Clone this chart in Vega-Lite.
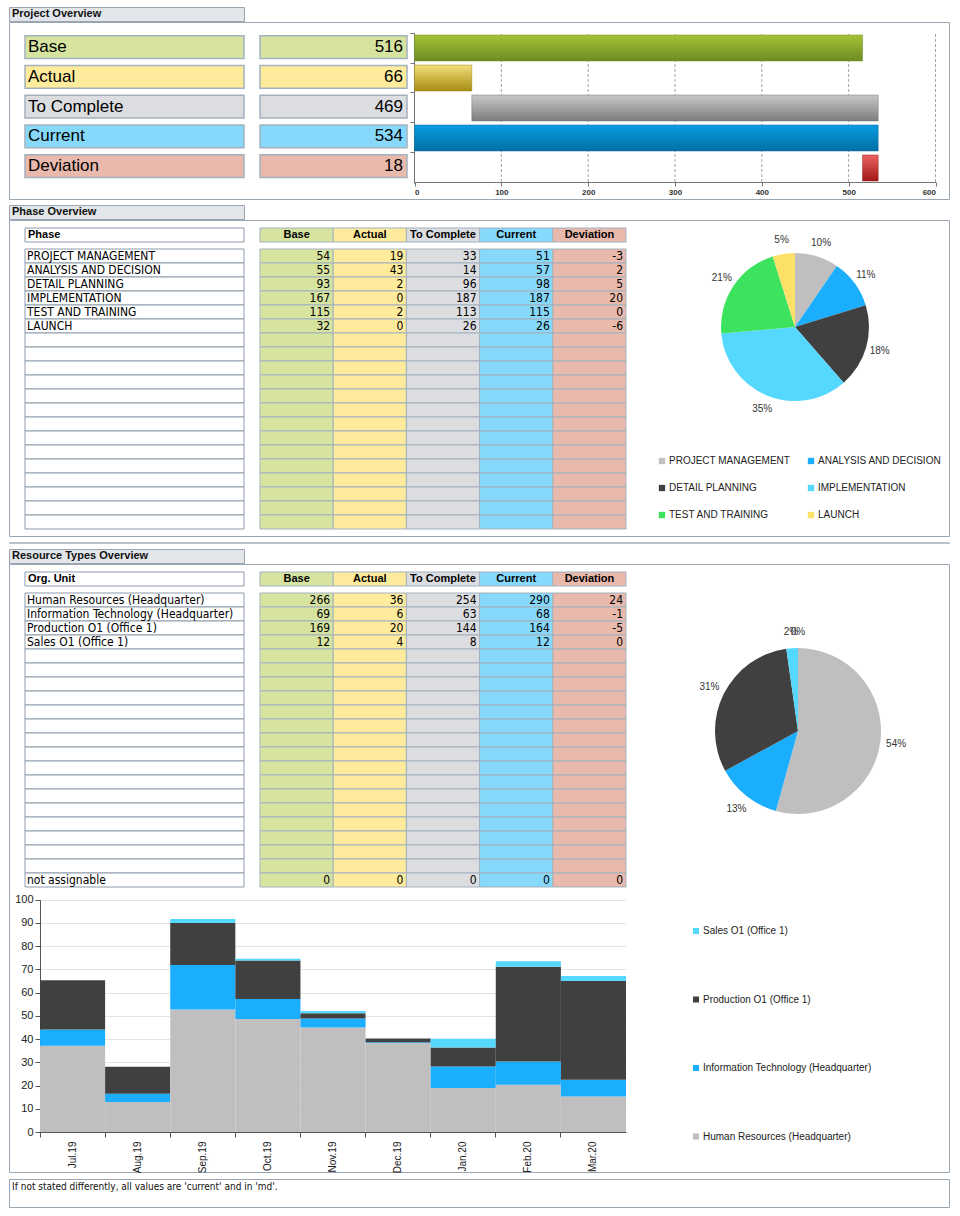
{
"$schema": "https://vega.github.io/schema/vega-lite/v6.json",
"padding": {"left": 8, "top": 6, "right": 0, "bottom": 0},
"autosize": {"type": "pad"},
"config": {"font": "Liberation Sans", "view": {"stroke": null}, "axis": {"labelFont": "Liberation Sans"}, "legend": {"labelFont": "Liberation Sans"}},
"datasets": {
"project": [
{"metric": "Base", "value": 516, "start": 0, "end": 516},
{"metric": "Actual", "value": 66, "start": 0, "end": 66},
{"metric": "To Complete", "value": 469, "start": 66, "end": 534},
{"metric": "Current", "value": 534, "start": 0, "end": 534},
{"metric": "Deviation", "value": 18, "start": 516, "end": 534}
],
"colHeads": [
{"col": "Base", "label": "Base"},
{"col": "Actual", "label": "Actual"},
{"col": "ToComplete", "label": "To Complete"},
{"col": "Current", "label": "Current"},
{"col": "Deviation", "label": "Deviation"}
],
"phases": [
{"row": 1, "name": "PROJECT MANAGEMENT", "Base": 54, "Actual": 19, "ToComplete": 33, "Current": 51, "Deviation": -3, "share": "10%"},
{"row": 2, "name": "ANALYSIS AND DECISION", "Base": 55, "Actual": 43, "ToComplete": 14, "Current": 57, "Deviation": 2, "share": "11%"},
{"row": 3, "name": "DETAIL PLANNING", "Base": 93, "Actual": 2, "ToComplete": 96, "Current": 98, "Deviation": 5, "share": "18%"},
{"row": 4, "name": "IMPLEMENTATION", "Base": 167, "Actual": 0, "ToComplete": 187, "Current": 187, "Deviation": 20, "share": "35%"},
{"row": 5, "name": "TEST AND TRAINING", "Base": 115, "Actual": 2, "ToComplete": 113, "Current": 115, "Deviation": 0, "share": "21%"},
{"row": 6, "name": "LAUNCH", "Base": 32, "Actual": 0, "ToComplete": 26, "Current": 26, "Deviation": -6, "share": "5%"},
{"row": 7}, {"row": 8}, {"row": 9}, {"row": 10}, {"row": 11}, {"row": 12}, {"row": 13},
{"row": 14}, {"row": 15}, {"row": 16}, {"row": 17}, {"row": 18}, {"row": 19}, {"row": 20}
],
"units": [
{"row": 1, "name": "Human Resources (Headquarter)", "Base": 266, "Actual": 36, "ToComplete": 254, "Current": 290, "Deviation": 24, "share": "54%"},
{"row": 2, "name": "Information Technology (Headquarter)", "Base": 69, "Actual": 6, "ToComplete": 63, "Current": 68, "Deviation": -1, "share": "13%"},
{"row": 3, "name": "Production O1 (Office 1)", "Base": 169, "Actual": 20, "ToComplete": 144, "Current": 164, "Deviation": -5, "share": "31%"},
{"row": 4, "name": "Sales O1 (Office 1)", "Base": 12, "Actual": 4, "ToComplete": 8, "Current": 12, "Deviation": 0, "share": "2%"},
{"row": 5}, {"row": 6}, {"row": 7}, {"row": 8}, {"row": 9}, {"row": 10}, {"row": 11}, {"row": 12},
{"row": 13}, {"row": 14}, {"row": 15}, {"row": 16}, {"row": 17}, {"row": 18}, {"row": 19}, {"row": 20},
{"row": 21, "name": "not assignable", "Base": 0, "Actual": 0, "ToComplete": 0, "Current": 0, "Deviation": 0, "share": "0%"}
],
"monthly": [
{"month": "Jul.19", "unit": "Human Resources (Headquarter)", "value": 37.1},
{"month": "Jul.19", "unit": "Information Technology (Headquarter)", "value": 7.0},
{"month": "Jul.19", "unit": "Production O1 (Office 1)", "value": 21.2},
{"month": "Jul.19", "unit": "Sales O1 (Office 1)", "value": 0},
{"month": "Aug.19", "unit": "Human Resources (Headquarter)", "value": 12.9},
{"month": "Aug.19", "unit": "Information Technology (Headquarter)", "value": 3.6},
{"month": "Aug.19", "unit": "Production O1 (Office 1)", "value": 11.6},
{"month": "Aug.19", "unit": "Sales O1 (Office 1)", "value": 0},
{"month": "Sep.19", "unit": "Human Resources (Headquarter)", "value": 52.7},
{"month": "Sep.19", "unit": "Information Technology (Headquarter)", "value": 19.2},
{"month": "Sep.19", "unit": "Production O1 (Office 1)", "value": 18.1},
{"month": "Sep.19", "unit": "Sales O1 (Office 1)", "value": 1.7},
{"month": "Oct.19", "unit": "Human Resources (Headquarter)", "value": 48.6},
{"month": "Oct.19", "unit": "Information Technology (Headquarter)", "value": 8.7},
{"month": "Oct.19", "unit": "Production O1 (Office 1)", "value": 16.5},
{"month": "Oct.19", "unit": "Sales O1 (Office 1)", "value": 0.8},
{"month": "Nov.19", "unit": "Human Resources (Headquarter)", "value": 45.0},
{"month": "Nov.19", "unit": "Information Technology (Headquarter)", "value": 3.9},
{"month": "Nov.19", "unit": "Production O1 (Office 1)", "value": 2.2},
{"month": "Nov.19", "unit": "Sales O1 (Office 1)", "value": 1.0},
{"month": "Dec.19", "unit": "Human Resources (Headquarter)", "value": 38.3},
{"month": "Dec.19", "unit": "Information Technology (Headquarter)", "value": 0.3},
{"month": "Dec.19", "unit": "Production O1 (Office 1)", "value": 1.7},
{"month": "Dec.19", "unit": "Sales O1 (Office 1)", "value": 0},
{"month": "Jan.20", "unit": "Human Resources (Headquarter)", "value": 18.9},
{"month": "Jan.20", "unit": "Information Technology (Headquarter)", "value": 9.3},
{"month": "Jan.20", "unit": "Production O1 (Office 1)", "value": 8.2},
{"month": "Jan.20", "unit": "Sales O1 (Office 1)", "value": 3.7},
{"month": "Feb.20", "unit": "Human Resources (Headquarter)", "value": 20.3},
{"month": "Feb.20", "unit": "Information Technology (Headquarter)", "value": 10.1},
{"month": "Feb.20", "unit": "Production O1 (Office 1)", "value": 40.7},
{"month": "Feb.20", "unit": "Sales O1 (Office 1)", "value": 2.4},
{"month": "Mar.20", "unit": "Human Resources (Headquarter)", "value": 15.3},
{"month": "Mar.20", "unit": "Information Technology (Headquarter)", "value": 7.2},
{"month": "Mar.20", "unit": "Production O1 (Office 1)", "value": 42.5},
{"month": "Mar.20", "unit": "Sales O1 (Office 1)", "value": 2.2}
]
},
"spacing": 4,
"vconcat": [
{"spacing": -2, "vconcat": [
 {"width": 235, "height": 14, "view": {"stroke": "#9aa6b2", "fill": "#e2e6ea"},
  "data": {"values": [{"t": "Project Overview"}]},
  "mark": {"type": "text", "align": "left", "baseline": "middle", "fontSize": 11, "fontWeight": "bold", "dx": 3, "color": "#111"},
  "encoding": {"text": {"field": "t"},
   "x": {"datum": "n", "type": "nominal", "bandPosition": 0, "scale": {"type": "band", "domain": ["n"], "range": [0, 235], "paddingInner": 0, "paddingOuter": 0}, "axis": null}}},
 {"width": 940, "height": 177, "view": {"stroke": "#9aa6b2"},
  "resolve": {"scale": {"x": "independent", "y": "independent", "fill": "independent", "color": "independent"}, "axis": {"x": "independent", "y": "independent"}},
  "layer": [
   {"data": {"name": "project"},
    "mark": {"type": "rect", "stroke": "#a3b1bf", "strokeWidth": 1.5},
    "encoding": {
     "x": {"datum": "n", "type": "nominal", "scale": {"type": "band", "domain": ["n"], "range": [16, 235], "paddingInner": 0, "paddingOuter": 0}, "axis": null},
     "y": {"field": "metric", "type": "nominal", "scale": {"type": "band", "domain": ["Base", "Actual", "To Complete", "Current", "Deviation"], "range": [10.3, 159], "paddingInner": 0.23, "paddingOuter": 0.115}, "axis": null},
     "fill": {"field": "metric", "type": "nominal", "scale": {"domain": ["Base", "Actual", "To Complete", "Current", "Deviation"], "range": ["#d7e4a0", "#ffeb9c", "#dcdde0", "#87d9fb", "#e9b9ab"]}, "legend": null}}},
   {"data": {"name": "project"},
    "mark": {"type": "text", "align": "left", "baseline": "middle", "fontSize": 17, "dx": 3, "color": "#000"},
    "encoding": {
     "x": {"datum": "n", "type": "nominal", "bandPosition": 0, "scale": {"type": "band", "domain": ["n"], "range": [16, 235], "paddingInner": 0, "paddingOuter": 0}, "axis": null},
     "y": {"field": "metric", "type": "nominal", "scale": {"type": "band", "domain": ["Base", "Actual", "To Complete", "Current", "Deviation"], "range": [10.3, 159], "paddingInner": 0.23, "paddingOuter": 0.115}, "axis": null},
     "text": {"field": "metric", "type": "nominal"}}},
   {"data": {"name": "project"},
    "mark": {"type": "rect", "stroke": "#a3b1bf", "strokeWidth": 1.5},
    "encoding": {
     "x": {"datum": "v", "type": "nominal", "scale": {"type": "band", "domain": ["v"], "range": [251, 398], "paddingInner": 0, "paddingOuter": 0}, "axis": null},
     "y": {"field": "metric", "type": "nominal", "scale": {"type": "band", "domain": ["Base", "Actual", "To Complete", "Current", "Deviation"], "range": [10.3, 159], "paddingInner": 0.23, "paddingOuter": 0.115}, "axis": null},
     "fill": {"field": "metric", "type": "nominal", "scale": {"domain": ["Base", "Actual", "To Complete", "Current", "Deviation"], "range": ["#d7e4a0", "#ffeb9c", "#dcdde0", "#87d9fb", "#e9b9ab"]}, "legend": null}}},
   {"data": {"name": "project"},
    "mark": {"type": "text", "align": "right", "baseline": "middle", "fontSize": 17, "dx": -4, "color": "#000"},
    "encoding": {
     "x": {"datum": "v", "type": "nominal", "bandPosition": 1, "scale": {"type": "band", "domain": ["v"], "range": [251, 398], "paddingInner": 0, "paddingOuter": 0}, "axis": null},
     "y": {"field": "metric", "type": "nominal", "scale": {"type": "band", "domain": ["Base", "Actual", "To Complete", "Current", "Deviation"], "range": [10.3, 159], "paddingInner": 0.23, "paddingOuter": 0.115}, "axis": null},
     "text": {"field": "value", "type": "nominal"}}},
   {"data": {"values": [{"tick": 100}, {"tick": 200}, {"tick": 300}, {"tick": 400}, {"tick": 500}, {"tick": 600}]},
    "mark": {"type": "rule", "color": "#8a8a8a", "strokeWidth": 0.8, "strokeDash": [3, 2]},
    "encoding": {
     "x": {"field": "tick", "type": "quantitative", "scale": {"domain": [0, 600], "range": [405.5, 926.5], "nice": false, "zero": false}, "axis": null},
     "y": {"datum": "a", "type": "nominal", "scale": {"type": "point", "domain": ["a", "b"], "range": [12, 160], "padding": 0}, "axis": null},
     "y2": {"datum": "b"}}},
   {"data": {"name": "project"}, "transform": [{"filter": "datum.metric === 'Base'"}],
    "mark": {"type": "bar", "stroke": "#6f8f25", "strokeWidth": 0.5, "fill": {"gradient": "linear", "x1": 0, "y1": 0, "x2": 0, "y2": 1, "stops": [{"offset": 0, "color": "#a6c236"}, {"offset": 1, "color": "#6c8c22"}]}},
    "encoding": {
     "x": {"field": "start", "type": "quantitative", "scale": {"domain": [0, 600], "range": [405.5, 926.5], "nice": false, "zero": false},
      "axis": {"orient": "bottom", "offset": -17, "values": [0, 100, 200, 300, 400, 500, 600], "title": null, "grid": false, "labelFontSize": 8, "labelFontWeight": "bold", "labelColor": "#333", "tickSize": 4, "tickColor": "#777", "domainColor": "#777"}},
     "x2": {"field": "end"},
     "y": {"field": "metric", "type": "nominal", "scale": {"type": "band", "domain": ["Base", "Actual", "To Complete", "Current", "Deviation"], "range": [11, 161], "paddingInner": 0.133, "paddingOuter": 0.067},
      "axis": {"orient": "left", "offset": -405, "labels": false, "ticks": true, "tickSize": 4, "bandPosition": -0.077, "domainColor": "#777", "tickColor": "#777", "title": null, "grid": false}}}},
   {"data": {"name": "project"}, "transform": [{"filter": "datum.metric === 'Actual'"}],
    "mark": {"type": "bar", "stroke": "#a08615", "strokeWidth": 0.5, "fill": {"gradient": "linear", "x1": 0, "y1": 0, "x2": 0, "y2": 1, "stops": [{"offset": 0, "color": "#f2de7a"}, {"offset": 1, "color": "#a88c12"}]}},
    "encoding": {
     "x": {"field": "start", "type": "quantitative", "scale": {"domain": [0, 600], "range": [405.5, 926.5], "nice": false, "zero": false}, "axis": null},
     "x2": {"field": "end"},
     "y": {"field": "metric", "type": "nominal", "scale": {"type": "band", "domain": ["Base", "Actual", "To Complete", "Current", "Deviation"], "range": [11, 161], "paddingInner": 0.133, "paddingOuter": 0.067}, "axis": null}}},
   {"data": {"name": "project"}, "transform": [{"filter": "datum.metric === 'To Complete'"}],
    "mark": {"type": "bar", "stroke": "#777", "strokeWidth": 0.5, "fill": {"gradient": "linear", "x1": 0, "y1": 0, "x2": 0, "y2": 1, "stops": [{"offset": 0, "color": "#c8c8c8"}, {"offset": 1, "color": "#7c7c7c"}]}},
    "encoding": {
     "x": {"field": "start", "type": "quantitative", "scale": {"domain": [0, 600], "range": [405.5, 926.5], "nice": false, "zero": false}, "axis": null},
     "x2": {"field": "end"},
     "y": {"field": "metric", "type": "nominal", "scale": {"type": "band", "domain": ["Base", "Actual", "To Complete", "Current", "Deviation"], "range": [11, 161], "paddingInner": 0.133, "paddingOuter": 0.067}, "axis": null}}},
   {"data": {"name": "project"}, "transform": [{"filter": "datum.metric === 'Current'"}],
    "mark": {"type": "bar", "stroke": "#0a6c9e", "strokeWidth": 0.5, "fill": {"gradient": "linear", "x1": 0, "y1": 0, "x2": 0, "y2": 1, "stops": [{"offset": 0, "color": "#0a9de2"}, {"offset": 1, "color": "#006fa5"}]}},
    "encoding": {
     "x": {"field": "start", "type": "quantitative", "scale": {"domain": [0, 600], "range": [405.5, 926.5], "nice": false, "zero": false}, "axis": null},
     "x2": {"field": "end"},
     "y": {"field": "metric", "type": "nominal", "scale": {"type": "band", "domain": ["Base", "Actual", "To Complete", "Current", "Deviation"], "range": [11, 161], "paddingInner": 0.133, "paddingOuter": 0.067}, "axis": null}}},
   {"data": {"name": "project"}, "transform": [{"filter": "datum.metric === 'Deviation'"}],
    "mark": {"type": "bar", "stroke": "#9a1a1a", "strokeWidth": 0.5, "fill": {"gradient": "linear", "x1": 0, "y1": 0, "x2": 0, "y2": 1, "stops": [{"offset": 0, "color": "#ea6262"}, {"offset": 1, "color": "#a01818"}]}},
    "encoding": {
     "x": {"field": "start", "type": "quantitative", "scale": {"domain": [0, 600], "range": [405.5, 926.5], "nice": false, "zero": false}, "axis": null},
     "x2": {"field": "end"},
     "y": {"field": "metric", "type": "nominal", "scale": {"type": "band", "domain": ["Base", "Actual", "To Complete", "Current", "Deviation"], "range": [11, 161], "paddingInner": 0.133, "paddingOuter": 0.067}, "axis": null}}}
  ]}
]},
{"spacing": -2, "vconcat": [
 {"width": 235, "height": 14, "view": {"stroke": "#9aa6b2", "fill": "#e2e6ea"},
  "data": {"values": [{"t": "Phase Overview"}]},
  "mark": {"type": "text", "align": "left", "baseline": "middle", "fontSize": 11, "fontWeight": "bold", "dx": 3, "color": "#111"},
  "encoding": {"text": {"field": "t"},
   "x": {"datum": "n", "type": "nominal", "bandPosition": 0, "scale": {"type": "band", "domain": ["n"], "range": [0, 235], "paddingInner": 0, "paddingOuter": 0}, "axis": null}}},
 {"width": 940, "height": 316, "view": {"stroke": "#9aa6b2"},
  "resolve": {"scale": {"x": "independent", "y": "independent", "fill": "independent", "color": "independent", "theta": "independent"}, "axis": {"x": "independent", "y": "independent"}},
  "layer": [
   {"data": {"values": [{"label": "Phase"}]},
    "mark": {"type": "rect", "fill": "#ffffff", "stroke": "#8d9bab", "strokeWidth": 1},
    "encoding": {
     "x": {"datum": "n", "type": "nominal", "scale": {"type": "band", "domain": ["n"], "range": [16, 235], "paddingInner": 0, "paddingOuter": 0}, "axis": null},
     "y": {"datum": "h", "type": "nominal", "scale": {"type": "band", "domain": ["h"], "range": [8, 22], "paddingInner": 0, "paddingOuter": 0}, "axis": null}}},
   {"data": {"values": [{"label": "Phase"}]},
    "mark": {"type": "text", "align": "left", "baseline": "middle", "fontSize": 11, "fontWeight": "bold", "dx": 3, "color": "#000"},
    "encoding": {
     "x": {"datum": "n", "type": "nominal", "bandPosition": 0, "scale": {"type": "band", "domain": ["n"], "range": [16, 235], "paddingInner": 0, "paddingOuter": 0}, "axis": null},
     "y": {"datum": "h", "type": "nominal", "scale": {"type": "band", "domain": ["h"], "range": [8, 22], "paddingInner": 0, "paddingOuter": 0}, "axis": null},
     "text": {"field": "label", "type": "nominal"}}},
   {"data": {"name": "colHeads"},
    "mark": {"type": "rect", "stroke": "#a3b1bf", "strokeWidth": 1},
    "encoding": {
     "x": {"field": "col", "type": "nominal", "scale": {"type": "band", "domain": ["Base", "Actual", "ToComplete", "Current", "Deviation"], "range": [251, 617], "paddingInner": 0, "paddingOuter": 0}, "axis": null},
     "y": {"datum": "h", "type": "nominal", "scale": {"type": "band", "domain": ["h"], "range": [8, 22], "paddingInner": 0, "paddingOuter": 0}, "axis": null},
     "fill": {"field": "col", "type": "nominal", "scale": {"domain": ["Base", "Actual", "ToComplete", "Current", "Deviation"], "range": ["#d7e4a0", "#ffeb9c", "#dcdde0", "#87d9fb", "#e9b9ab"]}, "legend": null}}},
   {"data": {"name": "colHeads"},
    "mark": {"type": "text", "align": "center", "baseline": "middle", "fontSize": 11, "fontWeight": "bold", "color": "#000"},
    "encoding": {
     "x": {"field": "col", "type": "nominal", "scale": {"type": "band", "domain": ["Base", "Actual", "ToComplete", "Current", "Deviation"], "range": [251, 617], "paddingInner": 0, "paddingOuter": 0}, "axis": null},
     "y": {"datum": "h", "type": "nominal", "scale": {"type": "band", "domain": ["h"], "range": [8, 22], "paddingInner": 0, "paddingOuter": 0}, "axis": null},
     "text": {"field": "label", "type": "nominal"}}},
   {"data": {"name": "phases"},
    "mark": {"type": "rect", "fill": "#ffffff", "stroke": "#8d9bab", "strokeWidth": 1},
    "encoding": {
     "x": {"datum": "n", "type": "nominal", "scale": {"type": "band", "domain": ["n"], "range": [16, 235], "paddingInner": 0, "paddingOuter": 0}, "axis": null},
     "y": {"field": "row", "type": "ordinal", "scale": {"type": "band", "domain": [1,2,3,4,5,6,7,8,9,10,11,12,13,14,15,16,17,18,19,20], "range": [29, 309], "paddingInner": 0, "paddingOuter": 0}, "axis": null}}},
   {"data": {"name": "phases"}, "transform": [{"filter": "isValid(datum.name)"}],
    "mark": {"type": "text", "align": "left", "baseline": "middle", "fontSize": 12, "font": "DejaVu Sans Condensed, Liberation Sans", "dx": 2, "color": "#000"},
    "encoding": {
     "x": {"datum": "n", "type": "nominal", "bandPosition": 0, "scale": {"type": "band", "domain": ["n"], "range": [16, 235], "paddingInner": 0, "paddingOuter": 0}, "axis": null},
     "y": {"field": "row", "type": "ordinal", "scale": {"type": "band", "domain": [1,2,3,4,5,6,7,8,9,10,11,12,13,14,15,16,17,18,19,20], "range": [29, 309], "paddingInner": 0, "paddingOuter": 0}, "axis": null},
     "text": {"field": "name", "type": "nominal"}}},
   {"data": {"name": "phases"}, "transform": [{"fold": ["Base", "Actual", "ToComplete", "Current", "Deviation"], "as": ["col", "value"]}],
    "mark": {"type": "rect", "stroke": "#a3b1bf", "strokeWidth": 1},
    "encoding": {
     "x": {"field": "col", "type": "nominal", "scale": {"type": "band", "domain": ["Base", "Actual", "ToComplete", "Current", "Deviation"], "range": [251, 617], "paddingInner": 0, "paddingOuter": 0}, "axis": null},
     "y": {"field": "row", "type": "ordinal", "scale": {"type": "band", "domain": [1,2,3,4,5,6,7,8,9,10,11,12,13,14,15,16,17,18,19,20], "range": [29, 309], "paddingInner": 0, "paddingOuter": 0}, "axis": null},
     "fill": {"field": "col", "type": "nominal", "scale": {"domain": ["Base", "Actual", "ToComplete", "Current", "Deviation"], "range": ["#d7e4a0", "#ffeb9c", "#dcdde0", "#87d9fb", "#e9b9ab"]}, "legend": null}}},
   {"data": {"name": "phases"}, "transform": [{"fold": ["Base", "Actual", "ToComplete", "Current", "Deviation"], "as": ["col", "value"]}, {"filter": "isValid(datum.value)"}],
    "mark": {"type": "text", "align": "right", "baseline": "middle", "fontSize": 12, "font": "DejaVu Sans Condensed, Liberation Sans", "dx": -3, "color": "#000"},
    "encoding": {
     "x": {"field": "col", "type": "nominal", "bandPosition": 1, "scale": {"type": "band", "domain": ["Base", "Actual", "ToComplete", "Current", "Deviation"], "range": [251, 617], "paddingInner": 0, "paddingOuter": 0}, "axis": null},
     "y": {"field": "row", "type": "ordinal", "scale": {"type": "band", "domain": [1,2,3,4,5,6,7,8,9,10,11,12,13,14,15,16,17,18,19,20], "range": [29, 309], "paddingInner": 0, "paddingOuter": 0}, "axis": null},
     "text": {"field": "value", "type": "nominal"}}},
   {"data": {"name": "phases"}, "transform": [{"filter": "isValid(datum.Current)"}],
    "mark": {"type": "arc", "outerRadius": 74},
    "encoding": {
     "theta": {"field": "Current", "type": "quantitative", "stack": true},
     "order": {"field": "row", "type": "quantitative", "sort": "ascending"},
     "x": {"datum": "c", "type": "nominal", "scale": {"type": "point", "domain": ["c"], "range": [786, 786]}, "axis": null},
     "y": {"datum": "c", "type": "nominal", "scale": {"type": "point", "domain": ["c"], "range": [107, 107]}, "axis": null},
     "color": {"field": "name", "type": "nominal", "scale": {"domain": ["PROJECT MANAGEMENT", "ANALYSIS AND DECISION", "DETAIL PLANNING", "IMPLEMENTATION", "TEST AND TRAINING", "LAUNCH"], "range": ["#bfbfbf", "#1aaefc", "#404040", "#55d8fe", "#3de35f", "#fde068"]},
      "legend": {"orient": "none", "direction": "horizontal", "legendX": 648, "legendY": 236, "columns": 2, "title": null, "symbolType": "square", "symbolSize": 40, "symbolStrokeWidth": 0, "labelFontSize": 10, "labelColor": "#222", "rowPadding": 17, "columnPadding": 15, "labelOffset": 2, "padding": 0, "labelLimit": 300}}}},
   {"data": {"name": "phases"}, "transform": [{"filter": "isValid(datum.Current)"}],
    "mark": {"type": "text", "radius": 88, "fontSize": 10, "color": "#333"},
    "encoding": {
     "theta": {"field": "Current", "type": "quantitative", "stack": true},
     "order": {"field": "row", "type": "quantitative", "sort": "ascending"},
     "x": {"datum": "c", "type": "nominal", "scale": {"type": "point", "domain": ["c"], "range": [786, 786]}, "axis": null},
     "y": {"datum": "c", "type": "nominal", "scale": {"type": "point", "domain": ["c"], "range": [107, 107]}, "axis": null},
     "text": {"field": "share", "type": "nominal"}}}
  ]}
]},
{"width": 940, "height": 1, "view": {"stroke": "#b9c1c9", "fill": "#b9c1c9"},
 "data": {"values": []},
 "mark": {"type": "rect"},
 "encoding": {}},
{"spacing": -2, "vconcat": [
 {"width": 235, "height": 14, "view": {"stroke": "#9aa6b2", "fill": "#e2e6ea"},
  "data": {"values": [{"t": "Resource Types Overview"}]},
  "mark": {"type": "text", "align": "left", "baseline": "middle", "fontSize": 11, "fontWeight": "bold", "dx": 3, "color": "#111"},
  "encoding": {"text": {"field": "t"},
   "x": {"datum": "n", "type": "nominal", "bandPosition": 0, "scale": {"type": "band", "domain": ["n"], "range": [0, 235], "paddingInner": 0, "paddingOuter": 0}, "axis": null}}},
 {"width": 940, "height": 608, "view": {"stroke": "#9aa6b2"},
  "resolve": {"scale": {"x": "independent", "y": "independent", "fill": "independent", "color": "independent", "theta": "independent"}, "axis": {"x": "independent", "y": "independent"}},
  "layer": [
   {"data": {"values": [{"label": "Org. Unit"}]},
    "mark": {"type": "rect", "fill": "#ffffff", "stroke": "#8d9bab", "strokeWidth": 1},
    "encoding": {
     "x": {"datum": "n", "type": "nominal", "scale": {"type": "band", "domain": ["n"], "range": [16, 235], "paddingInner": 0, "paddingOuter": 0}, "axis": null},
     "y": {"datum": "h", "type": "nominal", "scale": {"type": "band", "domain": ["h"], "range": [8, 22], "paddingInner": 0, "paddingOuter": 0}, "axis": null}}},
   {"data": {"values": [{"label": "Org. Unit"}]},
    "mark": {"type": "text", "align": "left", "baseline": "middle", "fontSize": 11, "fontWeight": "bold", "dx": 3, "color": "#000"},
    "encoding": {
     "x": {"datum": "n", "type": "nominal", "bandPosition": 0, "scale": {"type": "band", "domain": ["n"], "range": [16, 235], "paddingInner": 0, "paddingOuter": 0}, "axis": null},
     "y": {"datum": "h", "type": "nominal", "scale": {"type": "band", "domain": ["h"], "range": [8, 22], "paddingInner": 0, "paddingOuter": 0}, "axis": null},
     "text": {"field": "label", "type": "nominal"}}},
   {"data": {"name": "colHeads"},
    "mark": {"type": "rect", "stroke": "#a3b1bf", "strokeWidth": 1},
    "encoding": {
     "x": {"field": "col", "type": "nominal", "scale": {"type": "band", "domain": ["Base", "Actual", "ToComplete", "Current", "Deviation"], "range": [251, 617], "paddingInner": 0, "paddingOuter": 0}, "axis": null},
     "y": {"datum": "h", "type": "nominal", "scale": {"type": "band", "domain": ["h"], "range": [8, 22], "paddingInner": 0, "paddingOuter": 0}, "axis": null},
     "fill": {"field": "col", "type": "nominal", "scale": {"domain": ["Base", "Actual", "ToComplete", "Current", "Deviation"], "range": ["#d7e4a0", "#ffeb9c", "#dcdde0", "#87d9fb", "#e9b9ab"]}, "legend": null}}},
   {"data": {"name": "colHeads"},
    "mark": {"type": "text", "align": "center", "baseline": "middle", "fontSize": 11, "fontWeight": "bold", "color": "#000"},
    "encoding": {
     "x": {"field": "col", "type": "nominal", "scale": {"type": "band", "domain": ["Base", "Actual", "ToComplete", "Current", "Deviation"], "range": [251, 617], "paddingInner": 0, "paddingOuter": 0}, "axis": null},
     "y": {"datum": "h", "type": "nominal", "scale": {"type": "band", "domain": ["h"], "range": [8, 22], "paddingInner": 0, "paddingOuter": 0}, "axis": null},
     "text": {"field": "label", "type": "nominal"}}},
   {"data": {"name": "units"},
    "mark": {"type": "rect", "fill": "#ffffff", "stroke": "#8d9bab", "strokeWidth": 1},
    "encoding": {
     "x": {"datum": "n", "type": "nominal", "scale": {"type": "band", "domain": ["n"], "range": [16, 235], "paddingInner": 0, "paddingOuter": 0}, "axis": null},
     "y": {"field": "row", "type": "ordinal", "scale": {"type": "band", "domain": [1,2,3,4,5,6,7,8,9,10,11,12,13,14,15,16,17,18,19,20,21], "range": [29, 323], "paddingInner": 0, "paddingOuter": 0}, "axis": null}}},
   {"data": {"name": "units"}, "transform": [{"filter": "isValid(datum.name)"}],
    "mark": {"type": "text", "align": "left", "baseline": "middle", "fontSize": 12, "font": "DejaVu Sans Condensed, Liberation Sans", "dx": 2, "color": "#000"},
    "encoding": {
     "x": {"datum": "n", "type": "nominal", "bandPosition": 0, "scale": {"type": "band", "domain": ["n"], "range": [16, 235], "paddingInner": 0, "paddingOuter": 0}, "axis": null},
     "y": {"field": "row", "type": "ordinal", "scale": {"type": "band", "domain": [1,2,3,4,5,6,7,8,9,10,11,12,13,14,15,16,17,18,19,20,21], "range": [29, 323], "paddingInner": 0, "paddingOuter": 0}, "axis": null},
     "text": {"field": "name", "type": "nominal"}}},
   {"data": {"name": "units"}, "transform": [{"fold": ["Base", "Actual", "ToComplete", "Current", "Deviation"], "as": ["col", "value"]}],
    "mark": {"type": "rect", "stroke": "#a3b1bf", "strokeWidth": 1},
    "encoding": {
     "x": {"field": "col", "type": "nominal", "scale": {"type": "band", "domain": ["Base", "Actual", "ToComplete", "Current", "Deviation"], "range": [251, 617], "paddingInner": 0, "paddingOuter": 0}, "axis": null},
     "y": {"field": "row", "type": "ordinal", "scale": {"type": "band", "domain": [1,2,3,4,5,6,7,8,9,10,11,12,13,14,15,16,17,18,19,20,21], "range": [29, 323], "paddingInner": 0, "paddingOuter": 0}, "axis": null},
     "fill": {"field": "col", "type": "nominal", "scale": {"domain": ["Base", "Actual", "ToComplete", "Current", "Deviation"], "range": ["#d7e4a0", "#ffeb9c", "#dcdde0", "#87d9fb", "#e9b9ab"]}, "legend": null}}},
   {"data": {"name": "units"}, "transform": [{"fold": ["Base", "Actual", "ToComplete", "Current", "Deviation"], "as": ["col", "value"]}, {"filter": "isValid(datum.value)"}],
    "mark": {"type": "text", "align": "right", "baseline": "middle", "fontSize": 12, "font": "DejaVu Sans Condensed, Liberation Sans", "dx": -3, "color": "#000"},
    "encoding": {
     "x": {"field": "col", "type": "nominal", "bandPosition": 1, "scale": {"type": "band", "domain": ["Base", "Actual", "ToComplete", "Current", "Deviation"], "range": [251, 617], "paddingInner": 0, "paddingOuter": 0}, "axis": null},
     "y": {"field": "row", "type": "ordinal", "scale": {"type": "band", "domain": [1,2,3,4,5,6,7,8,9,10,11,12,13,14,15,16,17,18,19,20,21], "range": [29, 323], "paddingInner": 0, "paddingOuter": 0}, "axis": null},
     "text": {"field": "value", "type": "nominal"}}},
   {"data": {"name": "units"}, "transform": [{"filter": "isValid(datum.Current)"}],
    "mark": {"type": "arc", "outerRadius": 83},
    "encoding": {
     "theta": {"field": "Current", "type": "quantitative", "stack": true},
     "order": {"field": "row", "type": "quantitative", "sort": "ascending"},
     "x": {"datum": "c", "type": "nominal", "scale": {"type": "point", "domain": ["c"], "range": [789, 789]}, "axis": null},
     "y": {"datum": "c", "type": "nominal", "scale": {"type": "point", "domain": ["c"], "range": [167, 167]}, "axis": null},
     "color": {"field": "name", "type": "nominal", "scale": {"domain": ["Human Resources (Headquarter)", "Information Technology (Headquarter)", "Production O1 (Office 1)", "Sales O1 (Office 1)", "not assignable"], "range": ["#bfbfbf", "#1aaefc", "#404040", "#55d8fe", "#3de35f"]}, "legend": null}}},
   {"data": {"name": "units"}, "transform": [{"filter": "isValid(datum.Current)"}],
    "mark": {"type": "text", "radius": 99, "fontSize": 10, "color": "#333"},
    "encoding": {
     "theta": {"field": "Current", "type": "quantitative", "stack": true},
     "order": {"field": "row", "type": "quantitative", "sort": "ascending"},
     "x": {"datum": "c", "type": "nominal", "scale": {"type": "point", "domain": ["c"], "range": [789, 789]}, "axis": null},
     "y": {"datum": "c", "type": "nominal", "scale": {"type": "point", "domain": ["c"], "range": [167, 167]}, "axis": null},
     "text": {"field": "share", "type": "nominal"}}},
   {"data": {"name": "monthly"},
    "mark": {"type": "bar"},
    "encoding": {
     "x": {"field": "month", "type": "ordinal", "sort": null, "scale": {"type": "band", "domain": ["Jul.19", "Aug.19", "Sep.19", "Oct.19", "Nov.19", "Dec.19", "Jan.20", "Feb.20", "Mar.20"], "range": [31, 617], "paddingInner": 0, "paddingOuter": 0},
      "axis": {"orient": "bottom", "offset": -40, "title": null, "labelAngle": -90, "bandPosition": 0, "grid": true, "gridColor": "#e3e3e3", "ticks": true, "tickSize": 5, "tickColor": "#555", "domainColor": "#555", "labelFontSize": 10, "labelColor": "#222", "labelPadding": 4}},
     "y": {"field": "value", "type": "quantitative", "stack": "zero", "scale": {"domain": [0, 100], "range": [568, 335.7], "nice": false, "zero": true},
      "axis": {"orient": "left", "offset": -31, "values": [0, 10, 20, 30, 40, 50, 60, 70, 80, 90, 100], "title": null, "grid": true, "gridColor": "#e3e3e3", "tickSize": 5, "tickColor": "#555", "domainColor": "#555", "labelFontSize": 11, "labelColor": "#222"}},
     "color": {"field": "unit", "type": "nominal", "scale": {"domain": ["Sales O1 (Office 1)", "Production O1 (Office 1)", "Information Technology (Headquarter)", "Human Resources (Headquarter)"], "range": ["#55d8fe", "#404040", "#1aaefc", "#bfbfbf"]},
      "legend": {"orient": "none", "legendX": 682, "legendY": 362, "title": null, "symbolType": "square", "symbolSize": 36, "symbolStrokeWidth": 0, "labelFontSize": 10, "labelColor": "#222", "rowPadding": 58.5, "labelOffset": 2, "padding": 0, "labelLimit": 300}},
     "order": {"field": "unit", "type": "ordinal", "sort": "ascending"}}}
  ]}
]},
{"width": 940, "height": 28, "view": {"stroke": "#9aa6b2"},
 "data": {"values": [{"note": "If not stated differently, all values are 'current' and in 'md'."}]},
 "mark": {"type": "text", "align": "left", "baseline": "middle", "fontSize": 10, "font": "DejaVu Sans Condensed, Liberation Sans", "dx": 3, "color": "#111"},
 "encoding": {"text": {"field": "note"},
  "x": {"datum": "n", "type": "nominal", "bandPosition": 0, "scale": {"type": "band", "domain": ["n"], "range": [0, 940], "paddingInner": 0, "paddingOuter": 0}, "axis": null},
  "y": {"datum": "n", "type": "nominal", "scale": {"type": "point", "domain": ["n"], "range": [8, 8]}, "axis": null}}}
]
}
